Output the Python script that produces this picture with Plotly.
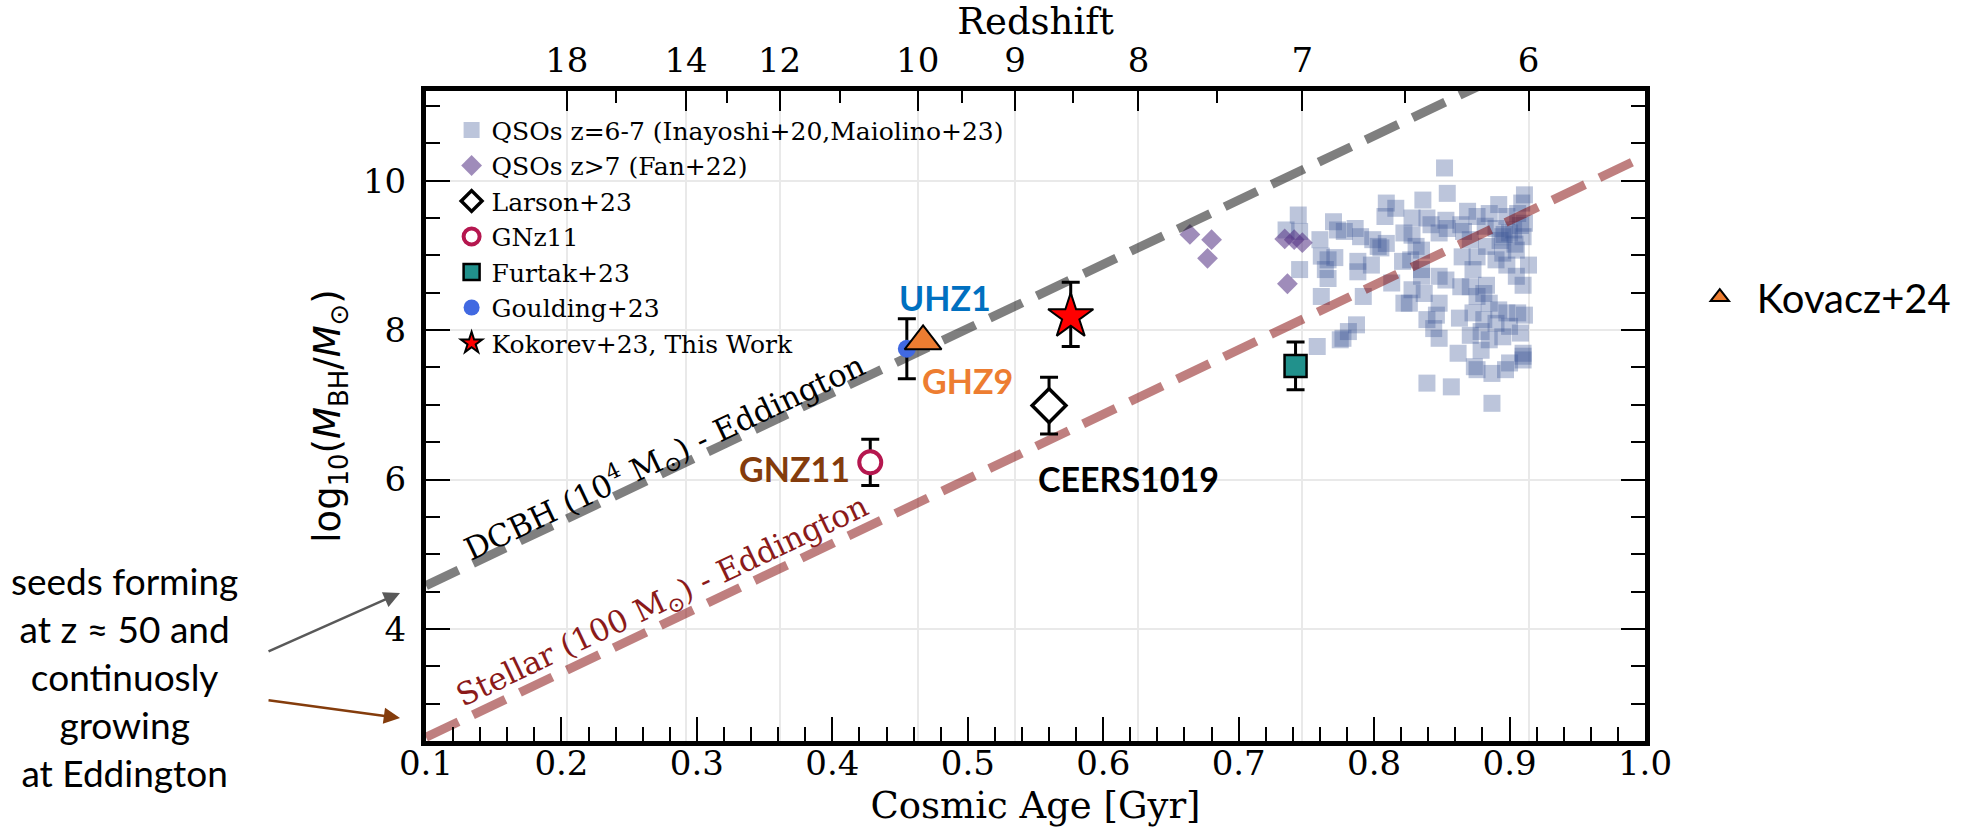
import plotly.graph_objects as go

# ---------------------------------------------------------------- axes
AGE_RANGE = [0.1, 1.0]
LOGM_RANGE = [2.5, 11.2]

age_tick_vals = [0.1, 0.2, 0.3, 0.4, 0.5, 0.6, 0.7, 0.8, 0.9, 1.0]
logm_tick_vals = [4, 6, 8, 10]

# redshift axis (top): cosmic age of each labelled redshift
z_labels = ["18", "14", "12", "10", "9", "8", "7", "6"]
z_ages = [0.204, 0.292, 0.361, 0.463, 0.535, 0.626, 0.747, 0.914]
z_minor_ages = [0.240, 0.322, 0.406, 0.496, 0.578, 0.684, 0.823]

# ---------------------------------------------------------------- data
# QSOs z=6-7 (Inayoshi+20, Maiolino+23)
qso67_age = [
    0.744, 0.735, 0.745, 0.745, 0.770, 0.773, 0.760, 0.761, 0.766, 0.764,
    0.766, 0.761, 0.771, 0.758, 0.775,
    0.809, 0.816, 0.808, 0.822, 0.778, 0.786, 0.790, 0.799, 0.803, 0.809,
    0.805, 0.788, 0.788, 0.798, 0.821, 0.813, 0.792, 0.822, 0.787, 0.781,
    0.777,
    0.852, 0.854, 0.836, 0.869, 0.828, 0.839, 0.842, 0.853, 0.854, 0.864,
    0.866, 0.871, 0.828, 0.831, 0.835, 0.848, 0.865, 0.827, 0.835, 0.835,
    0.848, 0.853, 0.864, 0.873, 0.871, 0.828, 0.837, 0.826, 0.848, 0.846,
    0.839, 0.863, 0.844, 0.848, 0.871, 0.862, 0.874, 0.839, 0.857,
    0.911, 0.909, 0.892, 0.885, 0.898, 0.906, 0.911, 0.876, 0.882, 0.890,
    0.903, 0.910, 0.895, 0.883, 0.895, 0.905, 0.890, 0.898, 0.914, 0.876,
    0.905, 0.910, 0.883, 0.881, 0.876, 0.885, 0.873, 0.892, 0.898, 0.906,
    0.911, 0.881, 0.890, 0.900, 0.879, 0.908, 0.885, 0.895, 0.879, 0.910,
    0.910, 0.900, 0.876, 0.897, 0.887, 0.887,
    0.900, 0.893, 0.908, 0.904, 0.910, 0.896,
]
qso67_logm = [
    9.54, 9.34, 9.32, 8.81, 9.45, 9.34, 9.21, 8.99, 8.94, 8.81,
    8.69, 8.45, 8.97, 7.78, 7.87,
    9.70, 9.63, 9.52, 9.30, 9.32, 9.36, 9.25, 9.21, 9.12, 9.16,
    9.10, 8.92, 8.78, 8.87, 8.92, 8.63, 8.45, 8.36, 8.07, 7.98,
    7.89,
    10.17, 9.83, 9.74, 9.59, 9.50, 9.50, 9.41, 9.47, 9.36, 9.41,
    9.32, 9.21, 9.27, 9.12, 9.07, 9.30, 8.98, 8.94, 8.81, 8.72,
    8.72, 8.67, 8.58, 8.81, 8.58, 8.54, 8.49, 8.36, 8.36, 8.20,
    8.14, 8.16, 8.02, 7.89, 7.93, 7.69, 7.51, 7.29, 7.24,
    9.81, 9.70, 9.68, 9.56, 9.52, 9.56, 9.43, 9.52, 9.39, 9.36,
    9.34, 9.25, 9.25, 9.12, 9.03, 9.07, 8.94, 8.87, 8.87, 8.98,
    8.72, 8.60, 8.60, 8.49, 8.45, 8.36, 8.23, 8.27, 8.23, 8.23,
    8.20, 8.14, 8.09, 8.05, 7.98, 7.96, 7.87, 7.91, 7.73, 7.69,
    7.60, 7.56, 7.47, 7.47, 7.42, 7.02,
    9.30, 9.20, 9.40, 9.15, 7.65, 9.28,
]

# QSOs z>7 (Fan+22)
qso7_age = [0.664, 0.680, 0.677, 0.734, 0.741, 0.747, 0.736]
qso7_logm = [9.28, 9.21, 8.96, 9.22, 9.21, 9.17, 8.62]

# individual high-z black holes
larson_age, larson_logm, larson_err = [0.560], [6.99], [0.38]
gnz11_age, gnz11_logm, gnz11_err = [0.428], [6.23], [0.31]
furtak_age, furtak_logm, furtak_err = [0.742], [7.52], [0.32]
goulding_age, goulding_logm, goulding_err = [0.455], [7.75], [0.40]
kovacz_age, kovacz_logm = [0.467], [7.85]
kokorev_age, kokorev_logm = [0.576], [8.18]
kokorev_err_up, kokorev_err_dn = [0.46], [0.40]

# Eddington-limited growth tracks (log M linear in cosmic time)
dcbh_age, dcbh_logm = [0.1, 1.0], [4.58, 12.32]
stellar_age, stellar_logm = [0.1, 1.0], [2.55, 10.33]

# object names written next to the points
name_labels = ["UHZ1", "GHZ9", "GNZ11", "CEERS1019"]
name_age = [0.483, 0.4995, 0.372, 0.619]
name_logm = [8.43, 7.33, 6.15, 6.02]
name_colors = ["#0070c0", "#ed7d31", "#843c0c", "#000000"]

SERIF = "DejaVu Serif"
SANS = "DejaVu Sans"
LABEL_FONT = "Lato"

fig = go.Figure()

fig.add_trace(go.Scatter(
    x=qso67_age, y=qso67_logm, mode="markers",
    name="QSOs z=6-7 (Inayoshi+20,Maiolino+23)",
    marker=dict(symbol="square", size=17, color="rgba(58,85,150,0.34)",
                line=dict(width=0)),
    legendgroup="a", legendrank=1,
))
fig.add_trace(go.Scatter(
    x=qso7_age, y=qso7_logm, mode="markers",
    name="QSOs z>7 (Fan+22)",
    marker=dict(symbol="diamond", size=16, color="rgba(80,45,130,0.55)",
                line=dict(width=0)),
    legendgroup="b", legendrank=2,
))

# growth tracks
fig.add_trace(go.Scatter(
    x=dcbh_age, y=dcbh_logm, mode="lines", showlegend=False,
    line=dict(color="rgba(0,0,0,0.5)", width=9, dash="36px,16px"),
    hoverinfo="skip",
))
fig.add_trace(go.Scatter(
    x=stellar_age, y=stellar_logm, mode="lines", showlegend=False,
    line=dict(color="rgba(128,0,0,0.5)", width=9, dash="36px,16px"),
    hoverinfo="skip",
))

err_style = dict(type="data", color="black", thickness=3, width=9)

fig.add_trace(go.Scatter(
    x=larson_age, y=larson_logm, mode="markers", name="Larson+23",
    error_y=dict(array=larson_err, **err_style),
    marker=dict(symbol="diamond", size=26, color="white",
                line=dict(color="black", width=3.5)),
    legendgroup="c", legendrank=3,
))
fig.add_trace(go.Scatter(
    x=gnz11_age, y=gnz11_logm, mode="markers", name="GNz11",
    error_y=dict(array=gnz11_err, **err_style),
    marker=dict(symbol="circle", size=22, color="white",
                line=dict(color="#b5174f", width=4)),
    legendgroup="d", legendrank=4,
))
fig.add_trace(go.Scatter(
    x=furtak_age, y=furtak_logm, mode="markers", name="Furtak+23",
    error_y=dict(array=furtak_err, **err_style),
    marker=dict(symbol="square", size=22, color="#21918c",
                line=dict(color="black", width=2.5)),
    legendgroup="e", legendrank=5,
))
fig.add_trace(go.Scatter(
    x=goulding_age, y=goulding_logm, mode="markers", name="Goulding+23",
    error_y=dict(array=goulding_err, **err_style),
    marker=dict(symbol="circle", size=18, color="#4169e1", line=dict(width=0)),
    legendgroup="f", legendrank=6,
))
fig.add_trace(go.Scatter(
    x=kovacz_age, y=kovacz_logm, mode="markers", name="Kovacz+24",
    marker=dict(symbol="triangle-up", size=32, color="#ed7d31",
                line=dict(color="black", width=2)),
    legend="legend2",
))
fig.add_trace(go.Scatter(
    x=kokorev_age, y=kokorev_logm, mode="markers",
    name="Kokorev+23, This Work",
    error_y=dict(array=kokorev_err_up, arrayminus=kokorev_err_dn, **err_style),
    marker=dict(symbol="star", size=34, color="#ff0000",
                line=dict(color="black", width=2)),
    legendgroup="g", legendrank=7,
))

# transparent anchor so the redshift (top) and mirrored right axes render
fig.add_trace(go.Scatter(
    x=AGE_RANGE, y=LOGM_RANGE, xaxis="x2", yaxis="y2", mode="markers",
    marker=dict(opacity=0), showlegend=False, hoverinfo="skip",
))

# ---------------------------------------------------------------- text
annotations = []
for txt, ax_, ay_, col in zip(name_labels, name_age, name_logm, name_colors):
    annotations.append(dict(
        x=ax_, y=ay_, xref="x", yref="y", text=f"<b>{txt}</b>",
        showarrow=False, font=dict(family=LABEL_FONT, size=34, color=col),
    ))

annotations.append(dict(
    x=0.276, y=6.30, xref="x", yref="y", showarrow=False, textangle=-25.4,
    text="DCBH (10<sup>4</sup> M<sub>⊙</sub>) - Eddington",
    font=dict(family=SERIF, size=31, color="black"),
))
annotations.append(dict(
    x=0.275, y=4.36, xref="x", yref="y", showarrow=False, textangle=-25.4,
    text="Stellar (100 M<sub>⊙</sub>) - Eddington",
    font=dict(family=SERIF, size=31, color="#8b1a1a"),
))

# seeding note with arrows to the start of each track
annotations.append(dict(
    x=-0.247, y=0.100, xref="paper", yref="paper", showarrow=False,
    xanchor="center", yanchor="middle", align="center",
    text="seeds forming<br>at z ≈ 50 and<br>continuosly<br>growing<br>at Eddington",
    font=dict(family=LABEL_FONT, size=37, color="black"),
))
annotations.append(dict(
    x=-0.0213, y=0.2277, xref="paper", yref="paper", ax=-133, ay=59,
    showarrow=True, arrowhead=2, arrowsize=1.3, arrowwidth=2.5,
    arrowcolor="#595959", text="",
))
annotations.append(dict(
    x=-0.0213, y=0.0354, xref="paper", yref="paper", ax=-133, ay=-18,
    showarrow=True, arrowhead=2, arrowsize=1.3, arrowwidth=2.5,
    arrowcolor="#843c0c", text="",
))

tick_font = dict(family=SERIF, size=34, color="black")
title_font = dict(family=SERIF, size=37, color="black")

fig.update_layout(
    width=1977, height=834,
    margin=dict(l=426, r=332, t=91, b=93, autoexpand=False),
    plot_bgcolor="white", paper_bgcolor="white",
    showlegend=True,
    xaxis=dict(
        range=AGE_RANGE, tickmode="array", tickvals=age_tick_vals,
        ticktext=[f"{v:.1f}" for v in age_tick_vals],
        ticks="inside", ticklen=24, tickwidth=2, tickcolor="black",
        minor=dict(tick0=0.1, dtick=0.02, ticks="inside", ticklen=14,
                   tickwidth=1.5, tickcolor="black", showgrid=False),
        showline=True, linewidth=5, linecolor="black", automargin=False,
        showgrid=False, zeroline=False, tickfont=tick_font,
        ticklabelstandoff=-12,
        title=dict(text="Cosmic Age [Gyr]", font=title_font, standoff=12),
    ),
    xaxis2=dict(
        range=AGE_RANGE, overlaying="x", side="top", anchor="y",
        tickmode="array", tickvals=z_ages, ticktext=z_labels,
        ticks="inside", ticklen=20, tickwidth=2, tickcolor="black",
        minor=dict(tickvals=z_minor_ages, ticks="inside", ticklen=12,
                   tickwidth=1.5, tickcolor="black", showgrid=False),
        showline=True, linewidth=5, linecolor="black", automargin=False,
        showgrid=True, gridcolor="#e9e9e9", gridwidth=1.5,
        zeroline=False, tickfont=tick_font, ticklabelstandoff=0,
        title=dict(text="Redshift", font=title_font, standoff=14),
    ),
    yaxis=dict(
        range=LOGM_RANGE, tickmode="array", tickvals=logm_tick_vals,
        ticks="inside", ticklen=24, tickwidth=2, tickcolor="black",
        minor=dict(tick0=0, dtick=0.5, ticks="inside", ticklen=14,
                   tickwidth=1.5, tickcolor="black", showgrid=False),
        showline=True, linewidth=5, linecolor="black", automargin=False,
        showgrid=True, gridcolor="#e9e9e9", gridwidth=1.5,
        zeroline=False, tickfont=tick_font, ticklabelstandoff=8,
        title=dict(
            text="log<sub>10</sub>(<i>M</i><sub>BH</sub>/<i>M</i><sub>⊙</sub>)",
            font=dict(family=SANS, size=37, color="black"), standoff=12),
    ),
    yaxis2=dict(
        range=LOGM_RANGE, overlaying="y", side="right", anchor="x",
        tickmode="array", tickvals=logm_tick_vals, showticklabels=False,
        ticks="inside", ticklen=24, tickwidth=2, tickcolor="black",
        minor=dict(tick0=0, dtick=0.5, ticks="inside", ticklen=14,
                   tickwidth=1.5, tickcolor="black", showgrid=False),
        showline=True, linewidth=5, linecolor="black", automargin=False,
        showgrid=False, zeroline=False,
    ),
    legend=dict(
        x=0.021, y=0.975, xanchor="left", yanchor="top",
        bgcolor="rgba(0,0,0,0)", traceorder="grouped", tracegroupgap=0,
        itemsizing="trace",
        font=dict(family=SERIF, size=25, color="black"),
    ),
    legend2=dict(
        x=1.031, y=0.683, xanchor="left", yanchor="middle",
        bgcolor="rgba(0,0,0,0)", itemsizing="trace", itemwidth=64,
        font=dict(family=LABEL_FONT, size=40, color="black"),
    ),
    annotations=annotations,
)

fig.write_html("out.html")
